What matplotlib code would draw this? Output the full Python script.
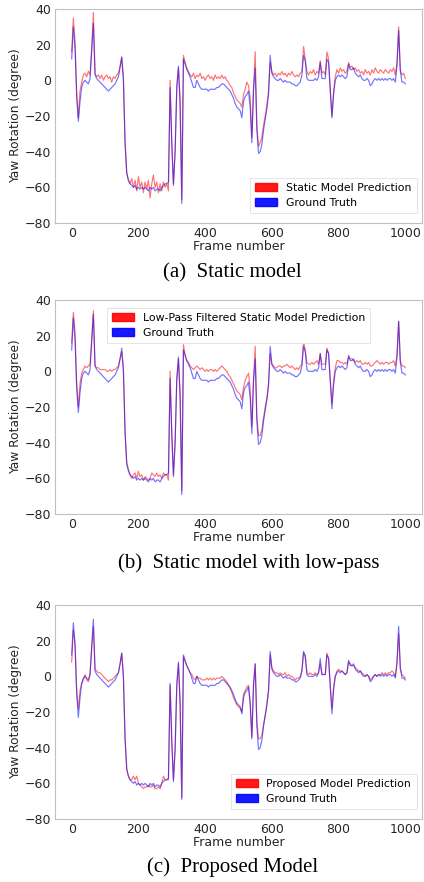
import numpy as np
import matplotlib
matplotlib.use("Agg")
import matplotlib.pyplot as plt
from matplotlib.patches import Patch

# frame grid (every 5th frame)
frames = list(range(0, 1001, 5))

ground_truth = [
    12, 30, 18, -10, -23, -12, -4, -1, 0, -1,
    -2, 1, 17, 32, 3, 1, 0, -1, -2, -3,
    -4, -5, -6, -5, -4, -3, -2, 0, 2, 7,
    13, 0, -35, -52, -56, -58, -59, -60, -59, -61,
    -60, -61, -60, -61, -60, -61, -62, -60, -61, -60,
    -62, -61, -61, -62, -60, -59, -58, -58, -57, -4,
    -35, -59, -40, -5, 8, -15, -69, 12, 9, 6,
    4, 2, -1, -4, -4, 0, -2, -4, -5, -5,
    -5, -5, -6, -5, -5, -5, -5, -4, -4, -3,
    -2, -2, -3, -4, -5, -6, -8, -10, -13, -15,
    -16, -17, -21, -12, -9, -8, -6, -15, -35, -5,
    7, -28, -41, -40, -36, -28, -22, -16, -8, 14,
    4, 2, 1, 0, 0, 1, 0, -1, 0, -1,
    -1, -1, -2, -2, -3, -3, -2, -1, 3, 14,
    11, 1, 0, 0, 0, 0, 1, 0, 2, 10,
    1, 1, 1, 12, 10, -6, -21, -8, 0, 2,
    3, 2, 3, 2, 1, 2, 9, 6, 6, 7,
    4, 3, 2, 3, 1, 0, 0, 1, 0, -3,
    -2, 0, 1, 0, 1, 0, 1, 0, 1, 0,
    1, 1, 0, 1, -1, 8, 28, 5, -1, -1,
    -2,
]

static_pred = [
    16, 35, 22, -6, -21, -6, -1, 3, 4, 2,
    5, 3, 18, 38, 4, 2, 3, 1, 3, 0,
    2, 3, 1, 2, -1, 2, 1, 3, 4, 8,
    13, 2, -35, -52, -56, -58, -55, -60, -56, -62,
    -54, -60, -57, -63, -57, -61, -56, -66, -58, -53,
    -60, -57, -63, -58, -62, -57, -60, -58, -62, 0,
    -35, -58, -40, -3, 7, -10, -67, 14, 10, 7,
    5, 3, 2, 4, 1, 3, 2, 4, 1, 2,
    0, 2, 3, 1, 2, 0, 3, 1, 2, 1,
    3, 1, 2, 0, -1, -3, -4, -7, -9, -11,
    -12, -13, -15, -8, -5, -1, -3, -10, -32, -5,
    16, -25, -37, -35, -32, -25, -20, -14, -6, 10,
    5, 3, 4, 2, 4, 3, 5, 3, 4, 2,
    4, 3, 5, 3, 2, 3, 2, 4, 5, 19,
    12, 5, 3, 5, 4, 6, 3, 5, 4, 11,
    4, 5, 3, 16, 12, -5, -20, -6, 2, 6,
    4, 7, 5, 6, 4, 5, 10, 7, 8, 6,
    7, 5, 6, 4, 5, 3, 6, 4, 5, 3,
    6, 4, 7, 5, 4, 6, 5, 4, 6, 5,
    4, 6, 5, 7, 3, 10, 30, 6, 3, 4,
    1,
]

lowpass_pred = [
    16, 33, 22, -6, -20, -7, -1, 1, 3, 2,
    3, 4, 18, 34, 3, 2, 2, 1, 1, 1,
    1, 0, 0, 1, 0, 1, 1, 2, 3, 7,
    11, 2, -33, -51, -55, -58, -60, -58, -57, -60,
    -56, -59, -58, -61, -59, -60, -61, -60, -57, -58,
    -59, -57, -59, -58, -60, -57, -58, -58, -61, 0,
    -35, -58, -40, -4, 7, -12, -67, 15, 9, 6,
    5, 3, 2, 1, 2, 3, 2, 1, 2, 1,
    0, 1, 0, 1, 1, 0, 1, 0, 1, 2,
    3, 2, 1, 0, -2, -3, -5, -7, -9, -11,
    -12, -13, -16, -9, -5, -3, -1, -10, -31, -5,
    14, -25, -36, -36, -33, -26, -20, -15, -7, 10,
    4, 3, 2, 2, 3, 3, 2, 3, 3, 4,
    3, 2, 3, 2, 1, 2, 1, 3, 4, 17,
    12, 5, 4, 4, 5, 4, 5, 6, 4, 10,
    4, 4, 4, 13, 10, -4, -18, -5, 2, 6,
    6, 5, 5, 4, 5, 4, 8, 7, 7, 6,
    5, 6, 5, 6, 4, 4, 5, 4, 5, 3,
    3, 4, 5, 6, 5, 4, 5, 4, 5, 5,
    4, 5, 5, 6, 3, 9, 28, 6, 3, 3,
    2,
]

proposed_pred = [
    8, 26, 18, -8, -18, -8, -4, -2, 1, -2,
    -3, 1, 16, 28, 4, 3, 2, 2, 1, 0,
    -1, -2, -3, -2, -2, -1, 0, 1, 2, 7,
    13, 0, -35, -52, -56, -58, -58, -56, -58, -56,
    -60, -61, -62, -63, -62, -62, -61, -62, -62, -61,
    -63, -63, -62, -63, -60, -56, -58, -58, -58, -5,
    -38, -58, -42, -5, 7, -15, -68, 11, 8, 6,
    4, 2, 1, -1, -2, 0, -1, -1, -2, -2,
    -2, -1, -2, -1, -2, -1, -2, -1, -1, -1,
    0, -1, -2, -3, -5, -7, -9, -12, -14, -16,
    -17, -18, -20, -10, -8, -6, -5, -15, -34, -5,
    7, -25, -35, -35, -33, -27, -22, -16, -8, 12,
    5, 3, 2, 2, 1, 2, 1, 1, 2, 0,
    1, 0, 0, -1, -2, -1, -1, 0, 3, 13,
    12, 2, 1, 2, 1, 1, 2, 1, 2, 7,
    1, 1, 1, 13, 10, -5, -18, -6, 0, 3,
    4, 3, 3, 2, 1, 2, 8, 7, 6, 6,
    5, 4, 3, 3, 2, 1, 0, 1, 0, -2,
    -1, 0, 1, 0, 1, 1, 2, 1, 2, 1,
    2, 2, 3, 2, 0, 7, 24, 4, 1, 0,
    -1,
]

panels = [
    (static_pred, "Static Model Prediction", "(a)  Static model"),
    (lowpass_pred, "Low-Pass Filtered Static Model Prediction", "(b)  Static model with low-pass"),
    (proposed_pred, "Proposed Model Prediction", "(c)  Proposed Model"),
]

fig = plt.figure(figsize=(4.24, 8.82), dpi=100)

# axes boxes in figure pixels: (top, bottom), caption (x, y)
boxes = [(9, 223), (300, 514), (605, 819)]
captions_xy = [(232, 273), (249, 563), (233, 867)]
legend_cfg = [
    dict(loc="lower right", bbox_to_anchor=(1.0, 0.02)),
    dict(loc="upper center", bbox_to_anchor=(0.5, 0.99)),
    dict(loc="lower right", bbox_to_anchor=(1.0, 0.02)),
]

W, H = 424, 882
for (pred, pred_label, caption), (top, bot), (cx, cy), lcfg in zip(panels, boxes, captions_xy, legend_cfg):
    ax = fig.add_axes([55 / W, 1 - bot / H, (422 - 55) / W, (bot - top) / H])
    ax.plot(frames, pred, color="red", lw=0.85, alpha=0.55)
    ax.plot(frames, ground_truth, color="blue", lw=0.85, alpha=0.55)
    ax.set_ylim(-80, 40)
    ax.set_yticks([-80, -60, -40, -20, 0, 20, 40])
    ax.set_xticks([0, 200, 400, 600, 800, 1000])
    ax.tick_params(length=0, pad=3, labelsize=9, colors="#262626")
    for s in ax.spines.values():
        s.set_color("#c0c0c0")
        s.set_linewidth(0.8)
    ax.set_xlabel("Frame number", fontsize=9, color="#262626", labelpad=0)
    ax.set_ylabel("Yaw Rotation (degree)", fontsize=8.8, color="#262626", labelpad=2)
    handles = [Patch(color="red", alpha=0.9), Patch(color="blue", alpha=0.9)]
    leg = ax.legend(handles, [pred_label, "Ground Truth"], fontsize=7.8,
                    frameon=True, fancybox=False, framealpha=1,
                    handlelength=2.0, borderpad=0.5, labelspacing=0.45, **lcfg)
    leg.get_frame().set_edgecolor("#e0e0e0")
    leg.get_frame().set_linewidth(0.6)
    fig.text(cx / W, 1 - cy / H, caption, ha="center", va="center",
             family="Liberation Serif", fontsize=15)

fig.savefig("out.png", dpi=100)
